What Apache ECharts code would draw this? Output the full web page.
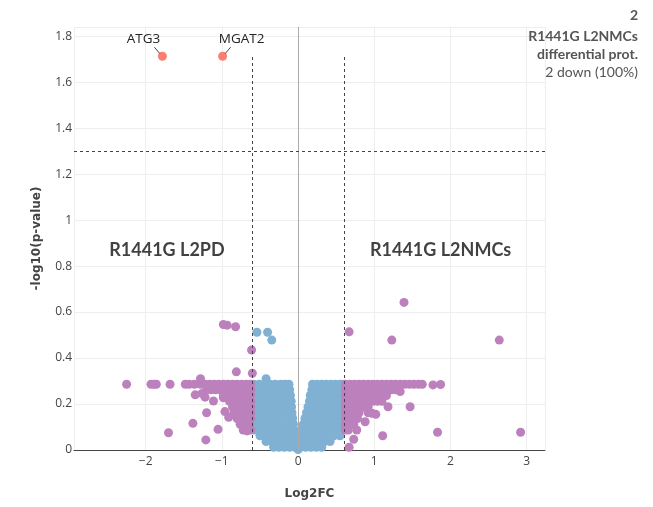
<!DOCTYPE html>
<html>
<head>
<meta charset="utf-8">
<script src="https://cdn.jsdelivr.net/npm/echarts@6/dist/echarts.min.js"></script>
<style>
  html, body { margin: 0; padding: 0; background: #fff; }
  #chart { width: 653px; height: 507px; }
</style>
</head>
<body>
<div id="chart"></div>
<script>
// not significant (|log2FC| < 0.6), [log2FC, -log10 p]
const nsPoints = [
  // left lobe
  [-0.58, 0.286], [-0.51, 0.286], [-0.44, 0.286], [-0.37, 0.286], [-0.30, 0.286], [-0.23, 0.286], [-0.17, 0.286], [-0.12, 0.286],
  [-0.58, 0.262], [-0.51, 0.262], [-0.44, 0.262], [-0.37, 0.262], [-0.30, 0.262], [-0.23, 0.262], [-0.17, 0.262], [-0.11, 0.262],
  [-0.58, 0.237], [-0.51, 0.237], [-0.44, 0.237], [-0.37, 0.237], [-0.30, 0.237], [-0.23, 0.237], [-0.16, 0.237], [-0.10, 0.237],
  [-0.58, 0.212], [-0.51, 0.212], [-0.44, 0.212], [-0.37, 0.212], [-0.30, 0.212], [-0.23, 0.212], [-0.16, 0.212], [-0.09, 0.212],
  [-0.58, 0.187], [-0.51, 0.187], [-0.44, 0.187], [-0.37, 0.187], [-0.30, 0.187], [-0.23, 0.187], [-0.15, 0.187], [-0.085, 0.187],
  [-0.58, 0.162], [-0.51, 0.162], [-0.44, 0.162], [-0.37, 0.162], [-0.30, 0.162], [-0.23, 0.162], [-0.15, 0.162], [-0.08, 0.162],
  [-0.58, 0.137], [-0.51, 0.137], [-0.44, 0.137], [-0.37, 0.137], [-0.30, 0.137], [-0.23, 0.137], [-0.14, 0.137], [-0.07, 0.137],
  [-0.58, 0.112], [-0.51, 0.112], [-0.44, 0.112], [-0.37, 0.112], [-0.30, 0.112], [-0.23, 0.112], [-0.13, 0.112], [-0.06, 0.112],
  [-0.57, 0.087], [-0.51, 0.087], [-0.44, 0.087], [-0.37, 0.087], [-0.30, 0.087], [-0.23, 0.087], [-0.15, 0.087], [-0.08, 0.087], [-0.03, 0.082],
  [-0.50, 0.062], [-0.44, 0.062], [-0.37, 0.062], [-0.30, 0.062], [-0.23, 0.062], [-0.16, 0.062], [-0.09, 0.062], [-0.02, 0.062],
  [-0.42, 0.037], [-0.35, 0.037], [-0.28, 0.037], [-0.21, 0.037], [-0.14, 0.037], [-0.07, 0.037], [0.00, 0.037],
  [-0.32, 0.012], [-0.25, 0.012], [-0.18, 0.012], [-0.11, 0.012], [-0.04, 0.012], [0.00, 0.002],
  [-0.54, 0.512], [-0.40, 0.512], [-0.345, 0.478], [-0.42, 0.31],
  // right lobe
  [0.19, 0.286], [0.25, 0.286], [0.31, 0.286], [0.37, 0.286], [0.43, 0.286], [0.49, 0.286], [0.55, 0.286], [0.58, 0.286],
  [0.18, 0.262], [0.25, 0.262], [0.31, 0.262], [0.37, 0.262], [0.43, 0.262], [0.49, 0.262], [0.55, 0.262], [0.58, 0.262],
  [0.16, 0.237], [0.23, 0.237], [0.30, 0.237], [0.37, 0.237], [0.43, 0.237], [0.49, 0.237], [0.55, 0.237], [0.58, 0.237],
  [0.15, 0.212], [0.22, 0.212], [0.29, 0.212], [0.36, 0.212], [0.43, 0.212], [0.49, 0.212], [0.55, 0.212], [0.58, 0.212],
  [0.13, 0.187], [0.20, 0.187], [0.27, 0.187], [0.34, 0.187], [0.41, 0.187], [0.48, 0.187], [0.55, 0.187], [0.58, 0.187],
  [0.11, 0.162], [0.18, 0.162], [0.25, 0.162], [0.32, 0.162], [0.39, 0.162], [0.46, 0.162], [0.53, 0.162], [0.58, 0.162],
  [0.09, 0.137], [0.16, 0.137], [0.23, 0.137], [0.30, 0.137], [0.37, 0.137], [0.44, 0.137], [0.51, 0.137], [0.58, 0.137],
  [0.07, 0.112], [0.14, 0.112], [0.21, 0.112], [0.28, 0.112], [0.35, 0.112], [0.42, 0.112], [0.49, 0.112], [0.58, 0.112],
  [0.04, 0.087], [0.11, 0.087], [0.18, 0.087], [0.25, 0.087], [0.32, 0.087], [0.39, 0.087], [0.46, 0.087], [0.53, 0.087], [0.58, 0.087],
  [0.05, 0.062], [0.12, 0.062], [0.19, 0.062], [0.26, 0.062], [0.33, 0.062], [0.40, 0.062], [0.47, 0.062], [0.55, 0.062],
  [0.07, 0.037], [0.14, 0.037], [0.21, 0.037], [0.28, 0.037], [0.35, 0.037], [0.42, 0.037],
  [0.03, 0.012], [0.10, 0.012], [0.17, 0.012], [0.24, 0.012], [0.31, 0.012]
];

// above fold-change cut but not significant
const fcOnlyPoints = [
  // left side
  [-2.25, 0.286], [-1.93, 0.286], [-1.89, 0.286], [-1.86, 0.286], [-1.68, 0.286], [-1.48, 0.286], [-1.43, 0.286],
  [-1.36, 0.286], [-1.28, 0.286], [-1.22, 0.286], [-1.16, 0.286], [-1.10, 0.286], [-1.04, 0.286], [-0.98, 0.286],
  [-0.92, 0.286], [-0.86, 0.286], [-0.80, 0.286], [-0.74, 0.286], [-0.68, 0.286], [-0.62, 0.286],
  [-1.20, 0.262], [-1.14, 0.262], [-1.08, 0.262], [-1.02, 0.262], [-0.96, 0.262], [-0.90, 0.262], [-0.84, 0.262],
  [-0.78, 0.262], [-0.72, 0.262], [-0.66, 0.262], [-0.62, 0.262],
  [-1.35, 0.24], [-1.26, 0.246], [-1.22, 0.23], [-0.98, 0.237], [-0.92, 0.237], [-0.86, 0.237], [-0.80, 0.237],
  [-0.74, 0.237], [-0.68, 0.237], [-0.62, 0.237],
  [-1.11, 0.213], [-0.98, 0.227], [-0.90, 0.212], [-0.84, 0.212], [-0.78, 0.212], [-0.72, 0.212], [-0.66, 0.212], [-0.62, 0.212],
  [-0.86, 0.187], [-0.80, 0.187], [-0.74, 0.187], [-0.68, 0.187], [-0.62, 0.187],
  [-1.20, 0.162], [-0.96, 0.167], [-0.84, 0.162], [-0.78, 0.162], [-0.72, 0.162], [-0.66, 0.162], [-0.62, 0.162],
  [-0.91, 0.142], [-0.80, 0.137], [-0.74, 0.137], [-0.68, 0.137], [-0.62, 0.137],
  [-1.38, 0.116], [-0.76, 0.112], [-0.70, 0.112], [-0.64, 0.112],
  [-1.05, 0.09], [-0.72, 0.087], [-0.66, 0.087], [-0.62, 0.087],
  [-1.70, 0.075], [-0.67, 0.083], [-1.21, 0.044],
  [-0.98, 0.546], [-0.93, 0.543], [-0.82, 0.536], [-0.61, 0.435], [-0.60, 0.334], [-0.81, 0.34], [-1.28, 0.31],
  // right side
  [0.62, 0.286], [0.68, 0.286], [0.74, 0.286], [0.80, 0.286], [0.86, 0.286], [0.92, 0.286], [0.98, 0.286], [1.04, 0.286],
  [1.10, 0.286], [1.16, 0.286], [1.22, 0.286], [1.28, 0.286], [1.34, 0.286], [1.40, 0.286], [1.46, 0.286], [1.52, 0.286],
  [1.58, 0.286], [1.63, 0.286], [1.77, 0.283], [1.87, 0.285],
  [0.62, 0.262], [0.68, 0.262], [0.74, 0.262], [0.80, 0.262], [0.86, 0.262], [0.92, 0.262], [0.98, 0.262], [1.04, 0.262],
  [1.10, 0.262], [1.16, 0.262], [1.22, 0.262], [1.28, 0.262], [1.34, 0.254],
  [0.62, 0.237], [0.68, 0.237], [0.74, 0.237], [0.80, 0.237], [0.86, 0.237], [0.92, 0.237], [0.98, 0.237], [1.04, 0.237],
  [1.10, 0.237], [1.16, 0.237],
  [0.62, 0.212], [0.68, 0.212], [0.74, 0.212], [0.80, 0.212], [0.86, 0.212], [0.92, 0.212], [0.98, 0.212], [1.04, 0.212], [1.10, 0.212],
  [0.62, 0.187], [0.68, 0.187], [0.74, 0.187], [0.80, 0.187], [0.86, 0.187], [0.92, 0.187], [1.18, 0.188], [1.47, 0.188],
  [0.62, 0.162], [0.68, 0.162], [0.74, 0.162], [0.80, 0.162], [0.92, 0.162], [0.97, 0.16], [1.02, 0.155],
  [0.62, 0.137], [0.68, 0.137], [0.74, 0.137], [0.78, 0.137], [0.88, 0.123],
  [0.62, 0.112], [0.68, 0.112], [0.73, 0.112],
  [0.62, 0.087], [0.66, 0.087], [0.77, 0.087],
  [1.83, 0.077], [2.92, 0.077], [1.11, 0.062], [0.73, 0.047], [0.67, 0.012],
  [1.39, 0.642], [0.67, 0.514], [1.23, 0.478], [2.64, 0.478]
];

// significant proteins
const sigNames = ['ATG3', 'MGAT2'];
const sigFC = [-1.78, -0.99];
const sigP = [1.713, 1.713];

// side labels [x, y, text]
const sideLabels = [[-1.72, 0.87, 'R1441G L2PD'], [1.87, 0.87, 'R1441G L2NMCs']];

// thresholds
const fcCut = 0.6;
const pCut = 1.301;
const cutTop = 1.713;

const xMin = -2.94, xMax = 3.24;
const yMin = 0, yMax = 1.84;

const summaryLines = ['2', 'R1441G L2NMCs', 'differential prot.', '2 down (100%)'];

const chart = echarts.init(document.getElementById('chart'));

const dash = { type: [3, 3], color: '#444', width: 1 };
const fmtX = v => (v < 0 ? '\u2212' + Math.abs(v) : String(v));
// which side of its point each significant label sits on
const sigSide = [-1, 1];

const summaryGraphics = summaryLines.map((t, i) => ({
  type: 'text',
  right: 15,
  top: [8, 29, 47, 65][i],
  z: 100,
  style: {
    text: t,
    fill: '#555',
    font: (i < 3 ? 'bold ' : '') + '14px Lato',
    textAlign: 'right'
  }
}));

const option = {
  animation: false,
  grid: { left: 74, right: 108, top: 27, bottom: 57, containLabel: false },
  xAxis: {
    type: 'value',
    min: xMin,
    max: xMax,
    name: 'Log2FC',
    nameLocation: 'middle',
    nameGap: 38,
    nameTextStyle: { fontFamily: 'DejaVu Sans', fontWeight: 'bold', fontSize: 12, color: '#444' },
    axisLine: { show: true, onZero: false, lineStyle: { color: '#444', width: 1 } },
    axisTick: { show: false },
    axisLabel: {
      color: '#444', fontFamily: 'Open Sans', fontSize: 12, margin: 6,
      showMinLabel: false, showMaxLabel: false,
      formatter: v => (Math.abs(v - Math.round(v)) < 1e-6 ? fmtX(Math.round(v)) : '')
    },
    splitLine: { show: true, lineStyle: { color: '#eee', width: 1 } }
  },
  yAxis: {
    type: 'value',
    min: yMin,
    max: yMax,
    interval: 0.2,
    name: '-log10(p-value)',
    nameLocation: 'middle',
    nameGap: 31,
    nameTextStyle: { fontFamily: 'DejaVu Sans', fontWeight: 'bold', fontSize: 12, color: '#444' },
    axisLine: { show: false },
    axisTick: { show: false },
    axisLabel: {
      color: '#444', fontFamily: 'Open Sans', fontSize: 12, margin: 2,
      showMaxLabel: false,
      formatter: v => {
        const k = v / 0.2;
        return Math.abs(k - Math.round(k)) < 1e-6 ? String(+v.toFixed(1)) : '';
      }
    },
    splitLine: { show: true, lineStyle: { color: '#eee', width: 1 } }
  },
  graphic: summaryGraphics,
  series: [
    {
      // zero line
      type: 'scatter',
      data: [],
      z: 1,
      markLine: {
        silent: true,
        symbol: 'none',
        label: { show: false },
        data: [
          [{ coord: [0, yMin], lineStyle: { type: 'solid', color: '#aaa', width: 1 } }, { coord: [0, yMax] }]
        ]
      }
    },
    {
      type: 'scatter',
      name: 'ns',
      symbolSize: 9,
      itemStyle: { color: '#80b1d3', opacity: 1 },
      data: nsPoints,
      z: 2
    },
    {
      type: 'scatter',
      name: 'fc',
      symbolSize: 9,
      itemStyle: { color: '#bc80bd', opacity: 1 },
      data: fcOnlyPoints,
      z: 3
    },
    {
      type: 'scatter',
      name: 'sig',
      symbolSize: 9,
      itemStyle: { color: '#fb8072', opacity: 1 },
      data: sigNames.map((n, i) => ({ name: n, value: [sigFC[i], sigP[i]] })),
      z: 5,
      label: {
        show: true,
        position: 'inside',
        formatter: '{b}',
        color: '#222',
        fontFamily: 'Open Sans',
        fontSize: 13.5
      },
      labelLayout: p => ({ dx: sigSide[p.dataIndex] * 19, dy: -17 })
    },
    {
      // thresholds
      type: 'scatter',
      data: [],
      z: 6,
      markLine: {
        silent: true,
        symbol: 'none',
        label: { show: false },
        lineStyle: dash,
        data: [
          [{ coord: [-fcCut, yMin] }, { coord: [-fcCut, cutTop] }],
          [{ coord: [fcCut, yMin] }, { coord: [fcCut, cutTop] }],
          [{ coord: [xMin, pCut] }, { coord: [xMax, pCut] }]
        ]
      }
    },
    {
      type: 'scatter',
      symbolSize: 0,
      data: sideLabels.map(d => ({ name: d[2], value: [d[0], d[1]] })),
      z: 7,
      label: {
        show: true,
        position: 'inside',
        formatter: '{b}',
        color: '#111',
        fontFamily: 'Lato',
        fontWeight: 'bold',
        fontSize: 18
      }
    }
  ]
};

chart.setOption(option);

// short arrows from each label to its point, placed through the chart's own scales
const arrows = sigNames.map((n, i) => {
  const p = chart.convertToPixel({ seriesIndex: 3 }, [sigFC[i], sigP[i]]);
  const s = sigSide[i];
  return {
    type: 'line',
    z: 100,
    shape: { x1: p[0] + s * 2.5, y1: p[1] - 2.5, x2: p[0] + s * 8, y2: p[1] - 9 },
    style: { stroke: '#444', lineWidth: 1 }
  };
});
chart.setOption({ graphic: summaryGraphics.concat(arrows) });
</script>
</body>
</html>
